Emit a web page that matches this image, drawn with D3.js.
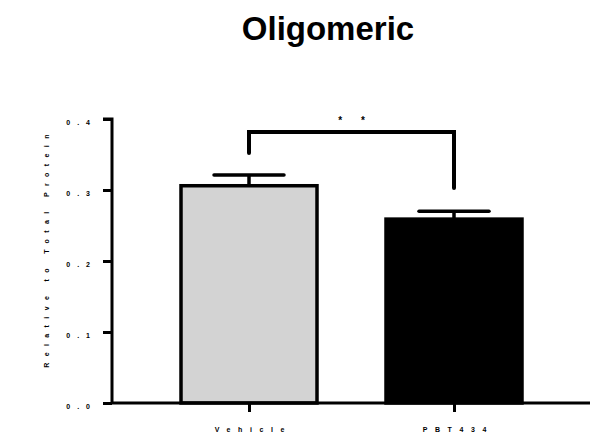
<!DOCTYPE html>
<html>
<head>
<meta charset="utf-8">
<script src="https://cdn.jsdelivr.net/npm/d3@7"></script>
<style>
  body { margin: 0; background: #fff; }
  text { font-family: "Liberation Sans", Arial, sans-serif; fill: #000; }
</style>
</head>
<body>
<div id="chart"></div>
<script>
// data
const groups = ["Vehicle", "PBT434"];
const means = [0.306, 0.259];
const errors = [0.015, 0.011];
const barColors = ["#d3d3d3", "#000000"];
const yTicks = [0.0, 0.1, 0.2, 0.3, 0.4];
const sigLabel = "* *";

const width = 592, height = 438;
const margin = {top: 119, right: 2, bottom: 35, left: 112};

const svg = d3.select("#chart").append("svg")
    .attr("width", width)
    .attr("height", height);

// title
svg.append("text")
    .attr("x", 328)
    .attr("y", 40)
    .attr("text-anchor", "middle")
    .style("font-size", "33px")
    .style("font-weight", "bold")
    .text("Oligomeric");

// scales
const y = d3.scaleLinear()
    .domain([0, 0.4])
    .range([403, 119]);

const x = d3.scalePoint()
    .domain(groups)
    .range([249, 454]);

const barW = 136;

// y axis
const yAxis = d3.axisLeft(y)
    .tickValues(yTicks)
    .tickSize(9)
    .tickPadding(14)
    .tickFormat(d3.format(".1f"));

const gy = svg.append("g")
    .attr("transform", `translate(${margin.left},0)`)
    .call(yAxis);
gy.select(".domain").attr("stroke-width", 3).attr("d", `M-9,${y(0.4)}H0V${y(0)}`);
gy.selectAll(".tick line").attr("stroke-width", 3);
gy.selectAll(".tick text")
    .style("font-size", "7px")
    .style("font-weight", "bold")
    .attr("letter-spacing", "7px")
    .attr("x", -15)
    .attr("dy", "0.85em");

// y axis title
svg.append("text")
    .attr("transform", `translate(49,248) rotate(-90)`)
    .attr("text-anchor", "middle")
    .style("font-size", "7px")
    .style("font-weight", "bold")
    .attr("letter-spacing", "6.4px")
    .text("Relative to Total Protein");

// bars
svg.selectAll(".bar")
    .data(groups)
    .enter().append("rect")
    .attr("class", "bar")
    .attr("x", d => x(d) - barW / 2)
    .attr("y", (d, i) => y(means[i]))
    .attr("width", barW)
    .attr("height", (d, i) => y(0) - y(means[i]))
    .attr("fill", (d, i) => barColors[i])
    .attr("stroke", "#000")
    .attr("stroke-width", 3.5);

// error bars (upper only)
groups.forEach((g, i) => {
    svg.append("line")
        .attr("x1", x(g)).attr("x2", x(g))
        .attr("y1", y(means[i])).attr("y2", y(means[i] + errors[i]))
        .attr("stroke", "#000").attr("stroke-width", 3.5);
    svg.append("line")
        .attr("x1", x(g) - 35).attr("x2", x(g) + 35)
        .attr("y1", y(means[i] + errors[i])).attr("y2", y(means[i] + errors[i]))
        .attr("stroke", "#000").attr("stroke-width", 3.5)
        .attr("stroke-linecap", "round");
});

// x axis
const xAxis = d3.axisBottom(x)
    .tickSize(9)
    .tickPadding(15);

const gx = svg.append("g")
    .attr("transform", `translate(0,${y(0)})`)
    .call(xAxis);
gx.select(".domain").attr("stroke-width", 3).attr("d", `M${margin.left},0H${width - margin.right}`);
gx.selectAll(".tick line").attr("stroke-width", 3);
gx.selectAll(".tick text")
    .style("font-size", "7px")
    .style("font-weight", "bold")
    .attr("letter-spacing", "7.6px")
    .attr("dx", "3.8px");

// significance bracket
const bracketY = 132;
svg.append("path")
    .attr("d", `M${x(groups[0])},153V${bracketY}H${x(groups[1])}V188`)
    .attr("fill", "none")
    .attr("stroke", "#000")
    .attr("stroke-width", 4)
    .attr("stroke-linecap", "round");

svg.append("text")
    .attr("x", (x(groups[0]) + x(groups[1])) / 2 + 4)
    .attr("y", 124)
    .attr("text-anchor", "middle")
    .style("font-size", "10px")
    .style("font-weight", "bold")
    .attr("letter-spacing", "8px")
    .text(sigLabel);
</script>
</body>
</html>
